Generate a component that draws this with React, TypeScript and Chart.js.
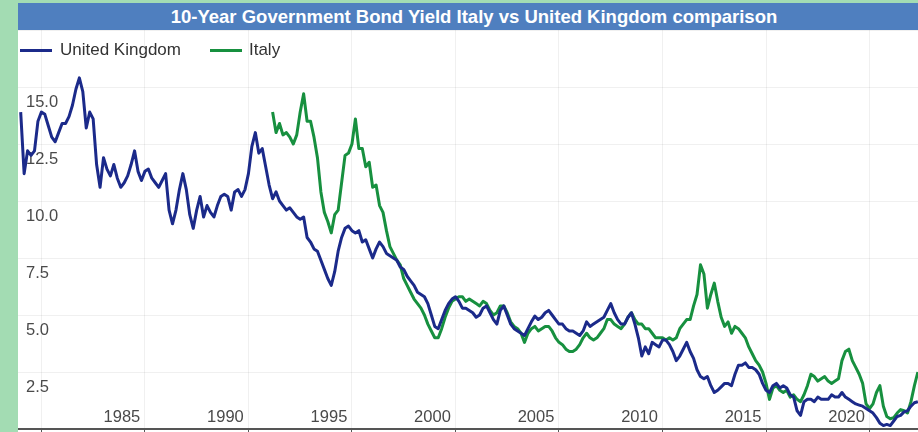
import React, { useEffect, useRef } from 'react';
import { Chart, registerables } from 'chart.js';

Chart.register(...registerables);

const TITLE = '10-Year Government Bond Yield Italy vs United Kingdom comparison';
const SERIES_NAMES = ['United Kingdom', 'Italy'];
const SERIES_COLORS = ['#1b2a8a', '#17903f'];

// sampling: every two months (decimal years)
const STEP = 1 / 6;
const UK_START = 1979.0;
const IT_START = 1991 + 1 / 6;

const X_MIN = 1978.87;
const X_MAX = 2022.34;
const X_LABEL_YEARS = [1985, 1990, 1995, 2000, 2005, 2010, 2015, 2020];
const Y_LABELS = [2.5, 5.0, 7.5, 10.0, 12.5, 15.0];

const ukYield = [
  13.9, 11.2, 12.2, 12.0, 12.2, 13.5,
  13.9, 13.8, 13.3, 12.8, 12.6, 13.0,
  13.4, 13.4, 13.7, 14.2, 14.9, 15.4,
  14.8, 13.2, 13.9, 13.6, 11.6, 10.6,
  11.9, 11.4, 11.1, 11.6, 11.0, 10.6,
  10.8, 11.1, 11.6, 12.2, 11.3, 10.9,
  11.3, 11.4, 11.0, 10.8, 10.6, 10.9,
  11.2, 9.6, 9.0, 9.6, 10.5, 11.2,
  10.5, 9.4, 8.8, 9.6, 10.2, 9.3,
  9.8, 9.5, 9.3, 9.8, 10.2, 10.3,
  10.2, 9.6, 10.4, 10.5, 10.2, 10.5,
  11.2, 12.4, 13.0, 12.1, 12.3, 11.5,
  10.7, 10.1, 10.4, 10.0, 9.8, 9.6,
  9.7, 9.5, 9.3, 9.2, 9.3, 8.4,
  8.2, 7.9, 7.8, 7.4, 7.0, 6.6,
  6.3, 6.9, 7.8, 8.4, 8.8, 8.9,
  8.7, 8.6, 8.7, 8.2, 8.3, 7.9,
  7.5, 7.9, 8.2, 8.0, 7.7, 7.6,
  7.5, 7.4, 7.1, 7.0, 6.7, 6.5,
  6.3, 6.0, 5.9, 5.8, 5.5, 5.0,
  4.5, 4.4, 4.8, 5.2, 5.5, 5.7,
  5.8, 5.6, 5.3, 5.3, 5.2, 5.1,
  4.9, 5.0, 5.3, 5.4, 5.1, 4.8,
  4.6, 5.2, 5.4, 5.0, 4.6, 4.4,
  4.3, 4.2, 4.1, 4.4, 4.7, 4.95,
  4.8, 4.9, 5.1, 5.2, 5.0, 4.8,
  4.6, 4.6, 4.4, 4.3, 4.3, 4.2,
  4.1, 4.3, 4.7, 4.5, 4.6, 4.7,
  4.8, 4.9, 5.2, 5.5, 5.1, 4.8,
  4.6, 4.6, 4.9, 5.1, 4.6, 4.0,
  3.2, 3.6, 3.3, 3.8, 3.7, 3.6,
  3.9, 3.9, 3.7, 3.4, 3.0, 3.2,
  3.5, 3.8, 3.4, 3.1, 2.6, 2.3,
  2.2, 2.3, 1.9, 1.6, 1.7, 1.85,
  2.0, 2.0, 1.9, 2.4, 2.8, 2.8,
  2.9, 2.7, 2.7, 2.6, 2.4, 2.0,
  1.7, 1.6, 1.9, 2.0, 1.8, 1.9,
  1.8, 1.5, 1.4, 0.8, 0.6, 1.2,
  1.3, 1.3, 1.2, 1.4, 1.3, 1.3,
  1.3, 1.5, 1.4, 1.4, 1.6, 1.4,
  1.3, 1.2, 1.1, 1.05, 1.0, 0.9,
  0.8, 0.7, 0.5, 0.25, 0.15, 0.2,
  0.15, 0.35, 0.55, 0.6, 0.75, 0.8,
  1.0, 1.15, 1.2,
];

const itYield = [
  13.9, 13.0, 13.4, 12.9, 13.0,
  12.8, 12.5, 12.9, 13.9, 14.7, 13.5,
  13.5, 12.8, 11.9, 10.4, 9.5, 9.1,
  8.6, 9.4, 9.6, 10.8, 12.0, 12.1,
  12.5, 13.6, 12.3, 12.3, 11.5, 11.7,
  10.6, 10.7, 9.8, 9.5, 8.7, 8.0,
  7.7, 7.4, 7.2, 6.6, 6.3, 6.0,
  5.7, 5.5, 5.3, 5.0, 4.6, 4.3,
  4.0, 4.0, 4.4, 4.9, 5.3, 5.6,
  5.7, 5.8, 5.8, 5.6, 5.7, 5.6,
  5.5, 5.4, 5.6, 5.5, 5.2, 5.0,
  5.1, 5.4, 5.4, 5.1, 4.7, 4.5,
  4.4, 4.2, 3.8, 4.2, 4.4, 4.5,
  4.3, 4.4, 4.5, 4.5, 4.3, 4.0,
  3.8, 3.7, 3.5, 3.4, 3.4, 3.5,
  3.7, 4.0, 4.2, 4.0, 3.9, 4.0,
  4.2, 4.4, 4.8, 4.8, 4.6, 4.5,
  4.4, 4.6, 4.9, 5.1, 4.8, 4.6,
  4.6, 4.4, 4.4, 4.2, 4.0, 4.0,
  4.0, 3.9, 4.0, 3.9, 4.0, 4.4,
  4.6, 4.8, 4.8, 5.4, 5.9, 7.2,
  6.8, 5.3, 5.9, 6.4, 5.6, 4.9,
  4.5, 4.7, 4.2, 4.5, 4.4, 4.2,
  4.0, 3.6, 3.3, 3.0, 2.8, 2.5,
  2.0, 1.3, 1.8, 1.9, 1.7, 1.6,
  1.7, 1.4, 1.5, 1.3, 1.2, 1.5,
  1.9, 2.4, 2.3, 2.1, 2.2, 2.3,
  2.1, 2.0, 2.1, 2.2, 3.0, 3.4,
  3.5, 3.0, 2.7, 2.4, 2.0, 1.1,
  0.9, 1.1, 1.6, 1.9, 1.0, 0.55,
  0.45, 0.5, 0.7, 0.85, 0.8, 0.7,
  1.2, 1.9, 2.5,
];

const FONT = '"Liberation Sans", Arial, Helvetica, sans-serif';
const GRID = 'rgba(0,0,0,0.06)';

export default function App() {
  const ref = useRef<HTMLCanvasElement>(null);

  useEffect(() => {
    if (!ref.current) return;
    const ukPts = ukYield.map((v, i) => ({ x: UK_START + i * STEP, y: v }));
    const itPts = itYield.map((v, i) => ({ x: IT_START + i * STEP, y: v }));
    const chart = new Chart(ref.current, {
      type: 'line',
      data: {
        datasets: [
          {
            label: SERIES_NAMES[0],
            data: ukPts,
            borderColor: SERIES_COLORS[0],
            backgroundColor: SERIES_COLORS[0],
            borderWidth: 3,
            pointRadius: 0,
            tension: 0,
            borderJoinStyle: 'round',
          },
          {
            label: SERIES_NAMES[1],
            data: itPts,
            borderColor: SERIES_COLORS[1],
            backgroundColor: SERIES_COLORS[1],
            borderWidth: 3,
            pointRadius: 0,
            tension: 0,
            borderJoinStyle: 'round',
          },
        ],
      },
      options: {
        animation: false,
        responsive: false,
        maintainAspectRatio: false,
        layout: { padding: 0 },
        plugins: {
          legend: { display: false },
          title: { display: false },
          tooltip: { enabled: false },
        },
        scales: {
          x: {
            type: 'linear',
            position: 'bottom',
            min: X_MIN,
            max: X_MAX,
            afterFit: (s: any) => {
              s.height = 3;
              s.paddingLeft = 0;
              s.paddingRight = 0;
            },
            grid: { color: GRID, lineWidth: 1, drawTicks: true, tickLength: 3, tickColor: '#555' },
            border: { display: true, color: '#555', width: 2 },
            ticks: {
              stepSize: 5,
              includeBounds: false,
              autoSkip: false,
              maxRotation: 0,
              minRotation: 0,
              mirror: true,
              padding: 2,
              labelOffset: -23,
              color: '#4a4a4a',
              font: { family: FONT, size: 16.5 },
              callback: (v: any) => (X_LABEL_YEARS.includes(Number(v)) ? String(v) : ''),
            },
          },
          y: {
            type: 'linear',
            position: 'left',
            min: 0,
            max: 17.5,
            afterFit: (s: any) => {
              s.width = 0;
              s.paddingTop = 0;
              s.paddingBottom = 0;
            },
            grid: { color: GRID, lineWidth: 1, drawTicks: false },
            border: { display: false },
            ticks: {
              stepSize: 2.5,
              mirror: true,
              padding: 8,
              labelOffset: 15,
              color: '#4a4a4a',
              font: { family: FONT, size: 16.5 },
              callback: (v: any) => (Y_LABELS.includes(Number(v)) ? Number(v).toFixed(1) : ''),
            },
          },
        },
      },
    });
    return () => chart.destroy();
  }, []);

  return (
    <div style={{ position: 'relative', width: 918, height: 432, background: '#a3dcb3', overflow: 'hidden' }}>
      <style>{'body{margin:0;}'}</style>
      <div style={{ position: 'absolute', left: 18, top: 3, width: 900, height: 429, background: '#ffffff' }} />
      <div
        style={{
          position: 'absolute',
          left: 18,
          top: 3,
          width: 900,
          height: 27,
          background: '#4f7fbf',
          color: '#ffffff',
          fontFamily: FONT,
          fontWeight: 'bold',
          fontSize: 18.5,
          lineHeight: '27px',
          textAlign: 'center',
          paddingLeft: 12,
          boxSizing: 'border-box',
          whiteSpace: 'nowrap',
        }}
      >
        {TITLE}
      </div>
      <canvas
        ref={ref}
        width={900}
        height={402}
        style={{ position: 'absolute', left: 18, top: 30, width: 900, height: 402, display: 'block' }}
      />
      <div
        style={{
          position: 'absolute',
          left: 20,
          top: 40,
          height: 20,
          display: 'flex',
          alignItems: 'center',
          fontFamily: FONT,
          fontSize: 17,
          color: '#333333',
          whiteSpace: 'nowrap',
        }}
      >
        <span style={{ display: 'inline-block', width: 32, height: 3, background: SERIES_COLORS[0], marginRight: 8 }} />
        <span>{SERIES_NAMES[0]}</span>
        <span style={{ display: 'inline-block', width: 32, height: 3, background: SERIES_COLORS[1], marginLeft: 29, marginRight: 7 }} />
        <span>{SERIES_NAMES[1]}</span>
      </div>
    </div>
  );
}
